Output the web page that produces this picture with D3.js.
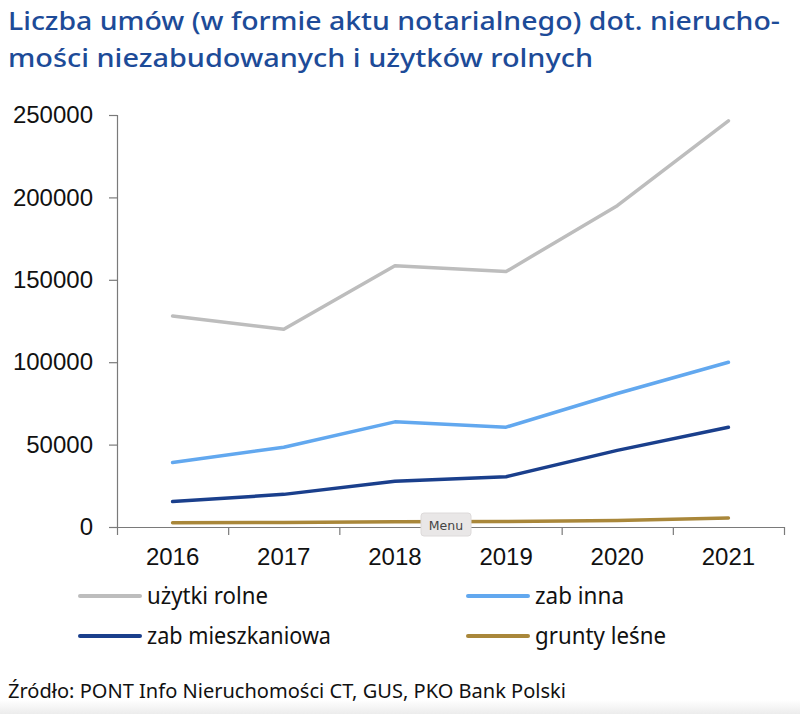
<!DOCTYPE html>
<html><head><meta charset="utf-8">
<script src="https://cdn.jsdelivr.net/npm/d3@7"></script>
<style>
html,body{margin:0;padding:0;background:#fff;}
svg{display:block;}
</style></head>
<body>
<svg id="chart" width="800" height="714"></svg>
<script>
const years = ["2016","2017","2018","2019","2020","2021"];
const uzytkiRolne = [128000, 120000, 158500, 155000, 195000, 246500];
const zabInna = [39200, 48400, 63800, 60600, 81000, 100000];
const zabMieszkaniowa = [15400, 19800, 27800, 30500, 46500, 60500];
const gruntyLesne = [2600, 2700, 3200, 3300, 3900, 5500];
const seriesNames = ["użytki rolne","zab inna","zab mieszkaniowa","grunty leśne"];
const seriesColors = ["#bdbdbd","#62a8ef","#1a3f8c","#a9873a"];
const yTicks = [0, 50000, 100000, 150000, 200000, 250000];
const titleLines = ["Liczba umów (w formie aktu notarialnego) dot. nierucho-","mości niezabudowanych i użytków rolnych"];
const sourceText = "Źródło: PONT Info Nieruchomości CT, GUS, PKO Bank Polski";

const allSeries = [uzytkiRolne, zabInna, zabMieszkaniowa, gruntyLesne];
const svg = d3.select("#chart");
const rounded = "'Noto Sans', Lato, sans-serif";
const numFont = "'Liberation Sans', Arial, sans-serif";

function fit(sel, w){
  sel.each(function(){
    const L = this.getComputedTextLength();
    if (Math.abs(L - w) > 1) { d3.select(this).attr("textLength", w).attr("lengthAdjust","spacingAndGlyphs"); }
  });
}

// bottom fade
const defs = svg.append("defs");
const g1 = defs.append("linearGradient").attr("id","fade").attr("x1",0).attr("x2",0).attr("y1",0).attr("y2",1);
g1.append("stop").attr("offset","0%").attr("stop-color","#ffffff");
g1.append("stop").attr("offset","100%").attr("stop-color","#ececec");
svg.append("rect").attr("x",0).attr("y",700).attr("width",800).attr("height",14).attr("fill","url(#fade)");

// title
const tW = [772, 585];
titleLines.forEach((t,i)=>{
  svg.append("text").attr("x",8).attr("y",30 + i*36.5)
    .attr("font-family",rounded).attr("font-weight",500).attr("font-size",26)
    .attr("fill","#1d4b98").text(t).call(fit, tW[i]);
});

const x0 = 117, x1 = 784, yTop = 115, yBot = 527;
const xBand = d3.scaleBand().domain(years).range([x0,x1]).padding(0);
const xEdge = d3.scaleLinear().domain([0, years.length]).range([x0,x1]);
const y = d3.scaleLinear().domain([0,250000]).range([yBot,yTop]);

// y axis
const ya = svg.append("g").attr("transform",`translate(${x0},0)`)
  .call(d3.axisLeft(y).tickValues(yTicks).tickSize(8).tickPadding(16).tickFormat(d3.format("d")));
ya.select(".domain").attr("stroke","#7a7a7a").attr("stroke-width",1.2);
ya.selectAll(".tick line").attr("stroke","#7a7a7a").attr("stroke-width",1.2);
ya.selectAll("text").attr("font-family",numFont).attr("font-size",24).attr("fill","#111");

// x axis edges
const xa = svg.append("g").attr("transform",`translate(0,${yBot})`)
  .call(d3.axisBottom(xEdge).tickValues(d3.range(0, years.length+1)).tickSize(8).tickFormat(""));
xa.select(".domain").attr("stroke","#7a7a7a").attr("stroke-width",1.2).attr("d",`M${x0},0.5H${x1}`);
xa.selectAll(".tick line").attr("stroke","#7a7a7a").attr("stroke-width",1.2);
const xl = svg.append("g").attr("transform",`translate(0,${yBot})`)
  .call(d3.axisBottom(xBand).tickSize(0).tickPadding(21));
xl.select(".domain").remove();
xl.selectAll("text").attr("font-family",numFont).attr("font-size",24).attr("fill","#111");

// lines
const line = d3.line().x((d,i)=>xBand(years[i]) + xBand.bandwidth()/2).y(d=>y(d));
allSeries.forEach((s,i)=>{
  svg.append("path").datum(s).attr("d",line).attr("fill","none")
    .attr("stroke",seriesColors[i]).attr("stroke-width",3.5)
    .attr("stroke-linejoin","round").attr("stroke-linecap","round");
});

// menu button
const mg = svg.append("g");
mg.append("rect").attr("x",421).attr("y",513).attr("width",50).attr("height",23).attr("rx",3)
  .attr("fill","#e9e7e7").attr("stroke","#dddada");
mg.append("text").attr("x",446).attr("y",529.5).attr("text-anchor","middle")
  .attr("font-family","'DejaVu Sans', sans-serif").attr("font-size",12.5).attr("fill","#444").text("Menu");

// legend
const legPos = [[80,596],[468,596],[80,636],[468,636]];
const legW = [121, 89, 184, 131];
seriesNames.forEach((n,i)=>{
  const [lx,ly] = legPos[i];
  svg.append("line").attr("x1",lx).attr("x2",lx+60).attr("y1",ly).attr("y2",ly)
    .attr("stroke",seriesColors[i]).attr("stroke-width",4).attr("stroke-linecap","round");
  svg.append("text").attr("x",lx+67).attr("y",ly+8).attr("font-family",rounded)
    .attr("font-size",23).attr("fill","#111").text(n).call(fit, legW[i]);
});

// source
svg.append("text").attr("x",8).attr("y",698).attr("font-family",rounded)
  .attr("font-size",20).attr("fill","#111").text(sourceText).call(fit, 558);
</script>
</body></html>
